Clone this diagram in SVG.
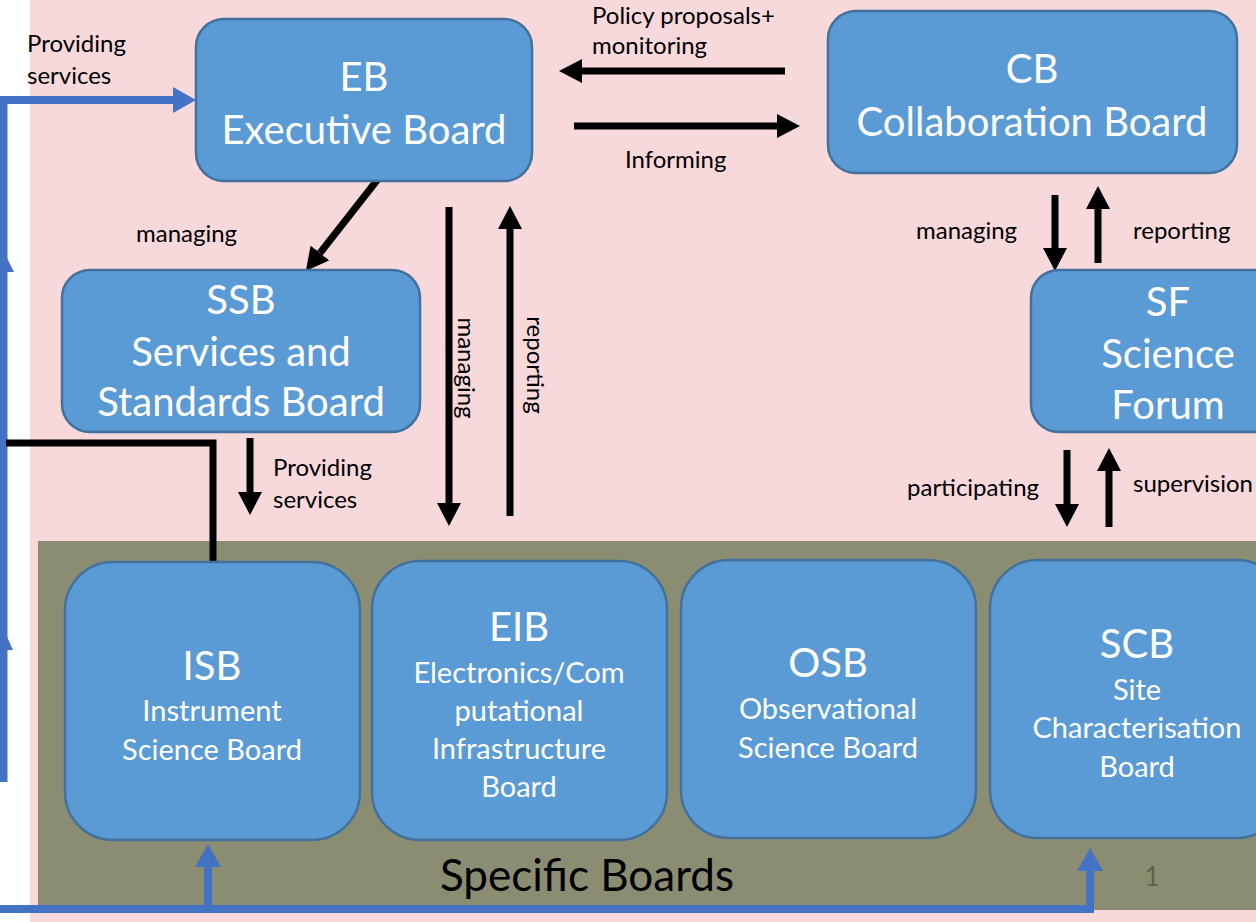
<svg xmlns="http://www.w3.org/2000/svg" width="1256" height="922" viewBox="0 0 1256 922">
<defs>
<style>
.node rect{fill:#5b9bd5;stroke:#41719c;stroke-width:2.5}
.t{fill:#fff;font-family:Lato,"Liberation Sans",sans-serif;text-anchor:middle}
.big{font-size:40px}
.sub{font-size:29px}
.lbl{fill:#000;font-family:Lato,"Liberation Sans",sans-serif;font-size:24px}
.blk{stroke:#000;stroke-width:7;fill:none}
.blu{stroke:#4472c4;stroke-width:8;fill:none}
</style>
<marker id="ah" markerUnits="userSpaceOnUse" markerWidth="24" markerHeight="24" refX="0" refY="12" orient="auto" viewBox="0 0 24 24">
<path d="M0,0 L23,12 L0,24 Z" fill="#000"/>
</marker>
<marker id="bh" markerUnits="userSpaceOnUse" markerWidth="24" markerHeight="26" refX="0" refY="13" orient="auto" viewBox="0 0 24 26">
<path d="M0,0 L23,13 L0,26 Z" fill="#4472c4"/>
</marker>
</defs>
<rect x="0" y="0" width="1256" height="922" fill="#fff"/>
<rect x="30" y="0" width="1226" height="922" fill="#f7d9dc"/>
<rect x="38" y="541" width="1218" height="369" fill="#8b8d72"/>

<g id="connectors">
<path class="blu" d="M3.5,782 V100 H173" marker-end="url(#bh)"/>
<polygon points="3,250 14,272 -8,272" fill="#4472c4"/>
<polygon points="3,628 13,650 -7,650" fill="#4472c4"/>
<path class="blu" d="M0,909 H1090 V871" marker-end="url(#bh)"/>
<path class="blu" d="M208,909 V867" marker-end="url(#bh)"/>
<path class="blk" d="M6,443 H213 V562"/>
<path class="blk" d="M785,71 H582" marker-end="url(#ah)"/>
<path class="blk" d="M574,126 H777" marker-end="url(#ah)"/>
<path class="blk" d="M378,179 L320,253" marker-end="url(#ah)"/>
<path class="blk" d="M449,207 V503" marker-end="url(#ah)"/>
<path class="blk" d="M510,516 V229" marker-end="url(#ah)"/>
<path class="blk" d="M250,438 V492" marker-end="url(#ah)"/>
<path class="blk" d="M1055,195 V248" marker-end="url(#ah)"/>
<path class="blk" d="M1098,263 V209" marker-end="url(#ah)"/>
<path class="blk" d="M1067,450 V504" marker-end="url(#ah)"/>
<path class="blk" d="M1109,527 V471" marker-end="url(#ah)"/>
</g>

<g id="labels">
<text class="lbl" x="27" y="52">Providing</text>
<text class="lbl" x="27" y="84">services</text>
<text class="lbl" x="136" y="242">managing</text>
<text class="lbl" x="592" y="24">Policy proposals+</text>
<text class="lbl" x="592" y="54">monitoring</text>
<text class="lbl" x="625" y="168">Informing</text>
<text class="lbl" text-anchor="middle" transform="translate(458,368) rotate(90)">managing</text>
<text class="lbl" text-anchor="middle" transform="translate(527,365) rotate(90)">reporting</text>
<text class="lbl" x="273" y="476">Providing</text>
<text class="lbl" x="273" y="508">services</text>
<text class="lbl" x="916" y="239">managing</text>
<text class="lbl" x="1133" y="239">reporting</text>
<text class="lbl" x="907" y="496">participating</text>
<text class="lbl" x="1133" y="492">supervision</text>
<text x="587" y="891" font-family="Lato,'Liberation Sans',sans-serif" font-size="44" text-anchor="middle" fill="#000">Specific Boards</text>
<text x="1152" y="886" font-family="Lato,'Liberation Sans',sans-serif" font-size="26" text-anchor="middle" fill="#5f6249">1</text>
</g>

<g id="EB" class="node">
<rect x="196" y="19" width="336" height="162" rx="28"/>
<text class="t big" x="364" y="91">EB</text>
<text class="t big" x="364" y="144">Executive Board</text>
</g>
<g id="CB" class="node">
<rect x="828" y="11" width="409" height="162" rx="28"/>
<text class="t big" x="1032" y="83">CB</text>
<text class="t big" x="1032" y="136">Collaboration Board</text>
</g>
<g id="SSB" class="node">
<rect x="62" y="270" width="358" height="162" rx="28"/>
<text class="t big" x="241" y="314">SSB</text>
<text class="t big" x="241" y="366">Services and</text>
<text class="t big" x="241" y="416">Standards Board</text>
</g>
<g id="SF" class="node">
<rect x="1031" y="270" width="260" height="162" rx="28"/>
<text class="t big" x="1168" y="316">SF</text>
<text class="t big" x="1168" y="368">Science</text>
<text class="t big" x="1168" y="419">Forum</text>
</g>
<g id="ISB" class="node">
<rect x="65" y="562" width="295" height="278" rx="48"/>
<text class="t big" x="212" y="680">ISB</text>
<text class="t sub" x="212" y="721">Instrument</text>
<text class="t sub" x="212" y="760">Science Board</text>
</g>
<g id="EIB" class="node">
<rect x="372" y="561" width="295" height="279" rx="48"/>
<text class="t big" x="519" y="641">EIB</text>
<text class="t sub" x="519" y="683">Electronics/Com</text>
<text class="t sub" x="519" y="721">putational</text>
<text class="t sub" x="519" y="759">Infrastructure</text>
<text class="t sub" x="519" y="797">Board</text>
</g>
<g id="OSB" class="node">
<rect x="681" y="560" width="295" height="278" rx="48"/>
<text class="t big" x="828" y="677">OSB</text>
<text class="t sub" x="828" y="719">Observational</text>
<text class="t sub" x="828" y="758">Science Board</text>
</g>
<g id="SCB" class="node">
<rect x="990" y="560" width="295" height="278" rx="48"/>
<text class="t big" x="1137" y="658">SCB</text>
<text class="t sub" x="1137" y="700">Site</text>
<text class="t sub" x="1137" y="738">Characterisation</text>
<text class="t sub" x="1137" y="777">Board</text>
</g>
</svg>
